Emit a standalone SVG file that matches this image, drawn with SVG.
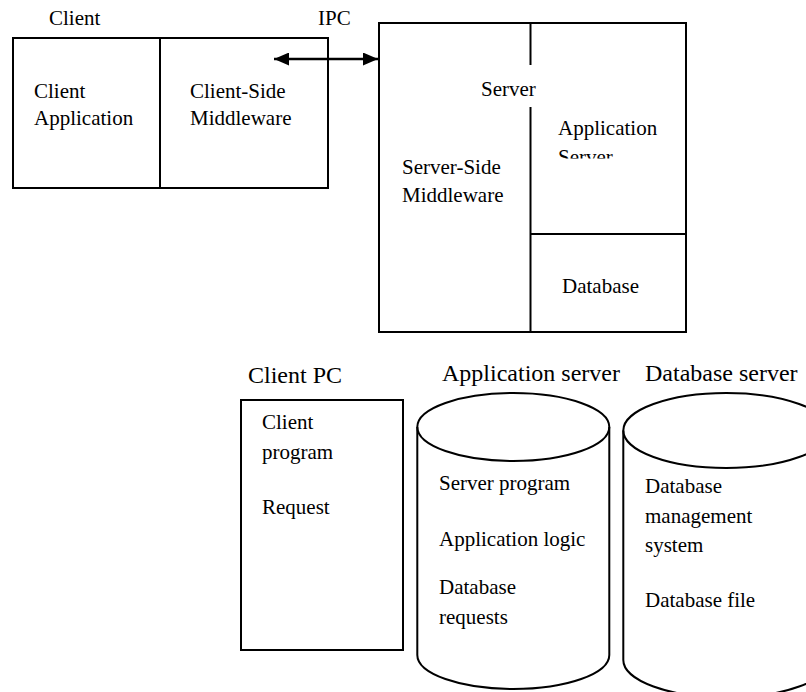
<svg xmlns="http://www.w3.org/2000/svg" width="806" height="692" viewBox="0 0 806 692">
  <style>
    .box { fill: none; stroke: #000; stroke-width: 2; }
    .t { font-family: "Liberation Serif", "Times New Roman", serif; font-size: 21px; fill: #000; }
    .h { font-family: "Liberation Serif", "Times New Roman", serif; font-size: 24px; fill: #000; }
    .conn { stroke: #000; stroke-width: 2.5; fill: none; }
  </style>
  <defs>
    <marker id="arr" markerUnits="userSpaceOnUse" markerWidth="15" markerHeight="13" refX="15" refY="6.5" orient="auto-start-reverse">
      <path d="M0,0 L15,6.5 L0,13 z" fill="#000"/>
    </marker>
    <clipPath id="clipApp">
      <rect x="540" y="100" width="140" height="58.5"/>
    </clipPath>
  </defs>
  <rect width="806" height="692" fill="#fff"/>

  <g id="client">
    <text class="t" x="49" y="25">Client</text>
    <rect class="box" x="13" y="38" width="315" height="150"/>
    <line class="box" x1="160" y1="38" x2="160" y2="188"/>
    <text class="t" x="34" y="98">Client</text>
    <text class="t" x="34" y="125">Application</text>
    <text class="t" x="190" y="98">Client-Side</text>
    <text class="t" x="190" y="125">Middleware</text>
  </g>

  <g id="server">
    <rect class="box" x="379" y="23" width="307" height="309"/>
    <line class="box" x1="530.5" y1="23" x2="530.5" y2="65"/>
    <line class="box" x1="530.5" y1="107" x2="530.5" y2="332"/>
    <line class="box" x1="530.5" y1="234" x2="686" y2="234"/>
    <text class="t" x="481" y="96">Server</text>
    <text class="t" x="558" y="135">Application</text>
    <text class="t" x="558" y="164" clip-path="url(#clipApp)">Server</text>
    <text class="t" x="402" y="174">Server-Side</text>
    <text class="t" x="402" y="202">Middleware</text>
    <text class="t" x="562" y="293">Database</text>
  </g>

  <g id="ipc-label">
    <text class="t" x="318" y="25">IPC</text>
  </g>

  <g id="connectors">
    <line class="conn" x1="274" y1="59" x2="378" y2="59" marker-start="url(#arr)" marker-end="url(#arr)"/>
  </g>

  <g id="client-pc">
    <text class="h" x="248" y="383">Client PC</text>
    <rect class="box" x="241" y="400" width="162" height="250"/>
    <text class="t" x="262" y="429">Client</text>
    <text class="t" x="262" y="459">program</text>
    <text class="t" x="262" y="514">Request</text>
  </g>

  <g id="application-server">
    <text class="h" x="442" y="381">Application server</text>
    <path class="box" d="M417.3,427 L417.3,655 A96,34 0 0 0 609.3,655 L609.3,427"/>
    <ellipse class="box" cx="513.3" cy="427" rx="96" ry="34"/>
    <text class="t" x="439" y="490">Server program</text>
    <text class="t" x="439" y="546">Application logic</text>
    <text class="t" x="439" y="594">Database</text>
    <text class="t" x="439" y="624">requests</text>
  </g>

  <g id="database-server">
    <text class="h" x="645" y="381">Database server</text>
    <path class="box" d="M623.3,430.5 L623.3,660 A103,37.5 0 0 0 829.3,660 L829.3,430.5"/>
    <ellipse class="box" cx="726.3" cy="430.5" rx="103" ry="37.5"/>
    <text class="t" x="645" y="493">Database</text>
    <text class="t" x="645" y="523">management</text>
    <text class="t" x="645" y="552">system</text>
    <text class="t" x="645" y="607">Database file</text>
  </g>
</svg>
